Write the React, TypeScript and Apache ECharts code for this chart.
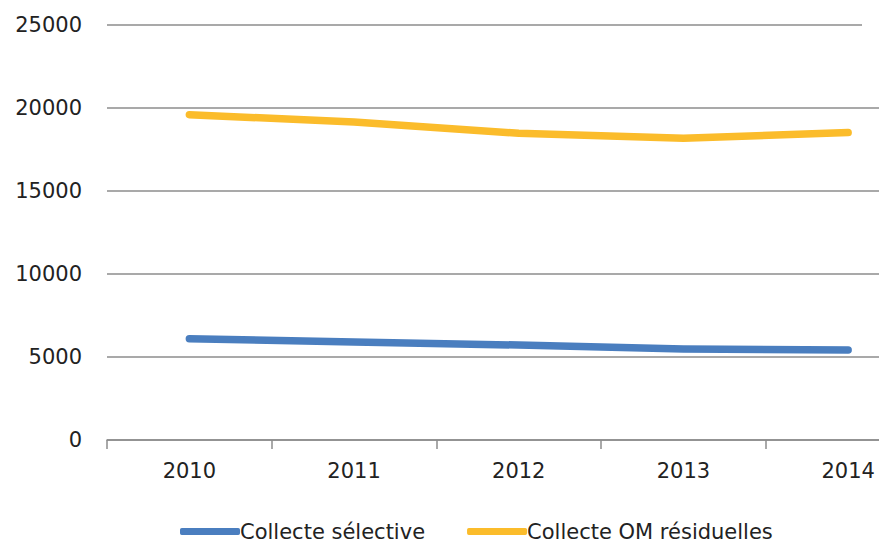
import React, { useEffect, useRef } from "react";
import * as echarts from "echarts";

const years = ["2010", "2011", "2012", "2013", "2014"];
const collecteSelective = [6100, 5900, 5720, 5480, 5420];
const collecteOM = [19600, 19150, 18480, 18180, 18520];
const seriesNames = ["Collecte sélective", "Collecte OM résiduelles"];
const colors = ["#4A7EBF", "#FBBC2B"];

export default function App() {
  const ref = useRef<HTMLDivElement>(null);
  useEffect(() => {
    if (!ref.current) return;
    const chart = echarts.init(ref.current, null, { renderer: "svg" });
    const font = "DejaVu Sans";
    chart.setOption({
      animation: false,
      backgroundColor: "#ffffff",
      grid: { left: 107, right: 9.5, top: 25, bottom: 103 },
      legend: {
        left: 175,
        top: 516,
        itemWidth: 60,
        itemHeight: 7,
        itemGap: 42,
        icon: "roundRect",
        textStyle: { fontFamily: font, fontSize: 21, color: "#222", padding: [0, 0, 0, -5] },
        data: seriesNames,
      },
      xAxis: {
        type: "category",
        data: years,
        boundaryGap: true,
        axisLine: { show: true, lineStyle: { color: "#8c8c8c", width: 1.5 } },
        axisTick: { show: true, length: 9, lineStyle: { color: "#8c8c8c", width: 1.5 } },
        axisLabel: { fontFamily: font, fontSize: 21, color: "#222", margin: 20 },
      },
      yAxis: {
        type: "value",
        min: 0,
        max: 25000,
        interval: 5000,
        axisLine: { show: false },
        axisTick: { show: false },
        splitLine: { show: true, lineStyle: { color: "#8c8c8c", width: 1.5 } },
        axisLabel: {
          fontFamily: font,
          fontSize: 21,
          color: "#222",
          margin: 25,
          formatter: (v: number) => String(v),
        },
      },
      series: [
        {
          name: seriesNames[0],
          type: "line",
          data: collecteSelective,
          symbol: "none",
          color: colors[0],
          lineStyle: { width: 7.5, color: colors[0], cap: "round", join: "round" },
        },
        {
          name: seriesNames[1],
          type: "line",
          data: collecteOM,
          symbol: "none",
          color: colors[1],
          lineStyle: { width: 7.5, color: colors[1], cap: "round", join: "round" },
        },
      ],
      graphic: [
        {
          type: "rect",
          shape: { x: 862, y: 18, width: 80, height: 12 },
          style: { fill: "#ffffff" },
          z: 100,
        },
      ],
    });
    return () => chart.dispose();
  }, []);
  return (
    <div
      style={{
        position: "fixed",
        left: 0,
        top: 0,
        width: 879,
        height: 543,
        overflow: "hidden",
        background: "#fff",
      }}
    >
      <div ref={ref} style={{ width: 940, height: 543 }} />
    </div>
  );
}
